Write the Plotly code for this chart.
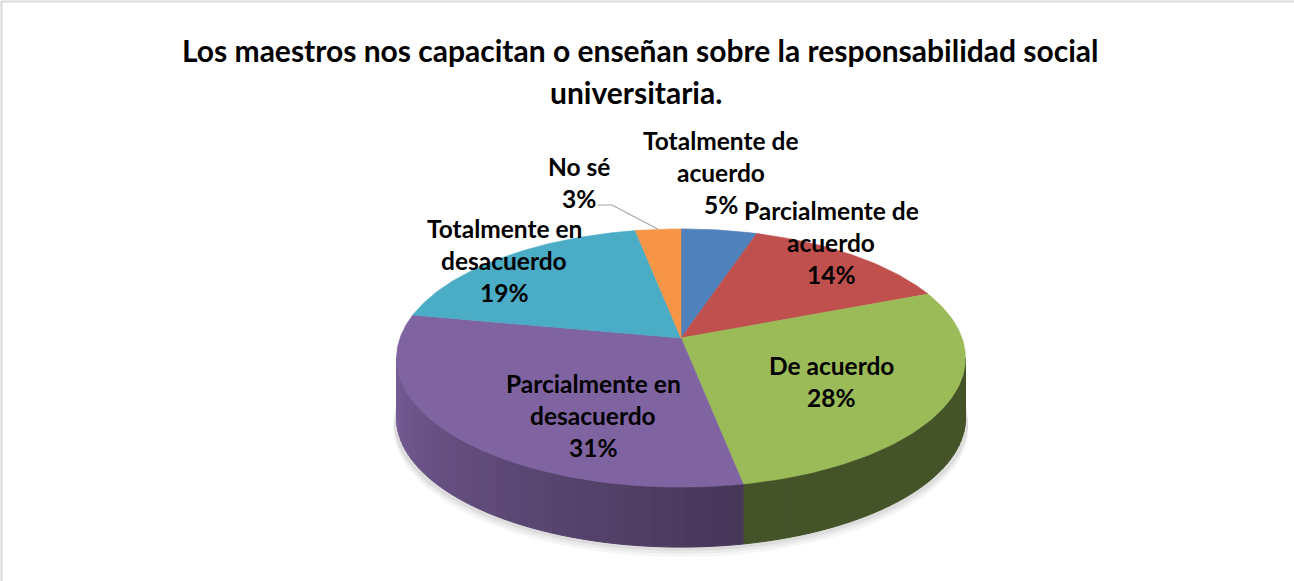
import math
import plotly.graph_objects as go

# ---------------- data ----------------
categories = ["Totalmente de acuerdo", "Parcialmente de acuerdo", "De acuerdo",
              "Parcialmente en desacuerdo", "Totalmente en desacuerdo", "No sé"]
values = [5, 14, 28, 31, 19, 3]
label_lines = [["Totalmente de", "acuerdo"], ["Parcialmente de", "acuerdo"], ["De acuerdo"],
               ["Parcialmente en", "desacuerdo"], ["Totalmente en", "desacuerdo"], ["No sé"]]
title_lines = ["Los maestros nos capacitan o enseñan sobre la responsabilidad social",
               "universitaria."]

# ---------------- style / layout ----------------
colors = ["#4F81BD", "#C0504D", "#9BBB59", "#8064A2", "#4BACC6", "#F79646"]
W, H = 1294, 581
CX, CY = 681, 338          # pie vertex (pixels)
RX, RY = 281, 126          # radii
P = 0.155                  # perspective factor
DEPTH = 60                 # thickness of the pie
FONT = "Lato"
LABEL_SIZE = 24.5
TITLE_SIZE = 30
# label anchors: (center x, first line y), line step
label_pos = [(721, 140), (831, 210), (831, 365), (593, 383), (504, 228), (579, 166)]
LINE_STEP = 32


def proj(theta_deg, dy=0.0):
    t = math.radians(theta_deg)
    u, v = math.sin(t), math.cos(t)
    s = 1.0 / (1.0 + P * v)
    return CX + RX * u * s, CY - RY * v * s + dy


def shade(hexcol, f):
    r, g, b = int(hexcol[1:3], 16), int(hexcol[3:5], 16), int(hexcol[5:7], 16)
    return "rgb(%d,%d,%d)" % (r * f, g * f, b * f)


total = float(sum(values))
bounds = [0.0]
for val in values:
    bounds.append(bounds[-1] + 360.0 * val / total)

fig = go.Figure()

# soft shadow under the pie
for k, a in [(10, 0.035), (7, 0.045), (4, 0.06)]:
    xs, ys = [], []
    for i in range(0, 361, 3):
        x, y = proj(i, DEPTH + k)
        xs.append(CX + (x - CX) * 1.01)
        ys.append(y)
    fig.add_trace(go.Scatter(x=xs, y=ys, fill="toself", mode="lines",
                             line=dict(width=0), fillcolor="rgba(0,0,0,%.3f)" % a,
                             hoverinfo="skip", showlegend=False))

# visible side range (silhouette tangents)
t_lo = math.degrees(math.acos(-P))
t_hi = 360 - t_lo


def side_factor(th):
    # lighter on the left, darker toward the front/right
    if th <= 170:
        return 0.45
    return 0.55 + (0.93 - 0.55) * (th - 170) / (t_hi - 170)


STEP = 2.0
for i, col in enumerate(colors):
    a0, a1 = max(bounds[i], t_lo), min(bounds[i + 1], t_hi)
    if a1 <= a0:
        continue
    th = a0
    while th < a1 - 1e-9:
        th2 = min(th + STEP, a1)
        pts_top = [proj(th), proj(th2)]
        pts_bot = [proj(th2, DEPTH), proj(th, DEPTH)]
        xs = [p[0] for p in pts_top + pts_bot] + [pts_top[0][0]]
        ys = [p[1] for p in pts_top + pts_bot] + [pts_top[0][1]]
        c = shade(col, side_factor((th + th2) / 2))
        fig.add_trace(go.Scatter(x=xs, y=ys, fill="toself", mode="lines",
                                 line=dict(width=1, color=c), fillcolor=c,
                                 hoverinfo="skip", showlegend=False))
        th = th2

# top faces
for i, col in enumerate(colors):
    a0, a1 = bounds[i], bounds[i + 1]
    n = max(4, int((a1 - a0) / 1.0))
    xs, ys = [CX], [CY]
    for j in range(n + 1):
        x, y = proj(a0 + (a1 - a0) * j / n)
        xs.append(x)
        ys.append(y)
    xs.append(CX)
    ys.append(CY)
    fig.add_trace(go.Scatter(x=xs, y=ys, fill="toself", mode="lines",
                             line=dict(width=0.6, color=col), fillcolor=col,
                             name=categories[i], hoverinfo="name", showlegend=False))

# labels
annotations = []
for i, (cx, y0) in enumerate(label_pos):
    lines = label_lines[i] + ["%d%%" % values[i]]
    for k, txt in enumerate(lines):
        annotations.append(dict(x=cx, y=y0 + k * LINE_STEP, xref="x", yref="y", text="<b>%s</b>" % txt,
                                showarrow=False, font=dict(family=FONT, size=LABEL_SIZE, color="#000000"),
                                xanchor="center", yanchor="middle"))

# leader line for the small "No sé" slice
mid = (bounds[5] + bounds[6]) / 2
ex, ey = proj(mid)
fig.add_trace(go.Scatter(x=[598, 612, ex], y=[205, 205, ey], mode="lines",
                         line=dict(color="#A6A6A6", width=1.2), hoverinfo="skip", showlegend=False))

# title
for k, (tx, ty) in enumerate([(640, 50), (636, 92)]):
    annotations.append(dict(x=tx, y=ty, xref="x", yref="y", text="<b>%s</b>" % title_lines[k],
                            showarrow=False, font=dict(family=FONT, size=TITLE_SIZE, color="#000000"),
                            xanchor="center", yanchor="middle"))

fig.update_layout(
    width=W, height=H, autosize=False,
    margin=dict(l=0, r=0, t=0, b=0, pad=0),
    paper_bgcolor="white", plot_bgcolor="white",
    xaxis=dict(range=[0, W], visible=False, fixedrange=True),
    yaxis=dict(range=[H, 0], visible=False, fixedrange=True),
    annotations=annotations,
    shapes=[dict(type="rect", xref="paper", yref="paper",
                 x0=1.5 / W, y0=-0.05, x1=1.05, y1=1 - 1.5 / H,
                 line=dict(color="#D9D9D9", width=2), fillcolor="rgba(0,0,0,0)")],
    showlegend=False,
)

fig.write_html("out.html", config={"displayModeBar": False},
               post_script="document.body.style.margin='0';document.body.style.overflow='hidden';")
